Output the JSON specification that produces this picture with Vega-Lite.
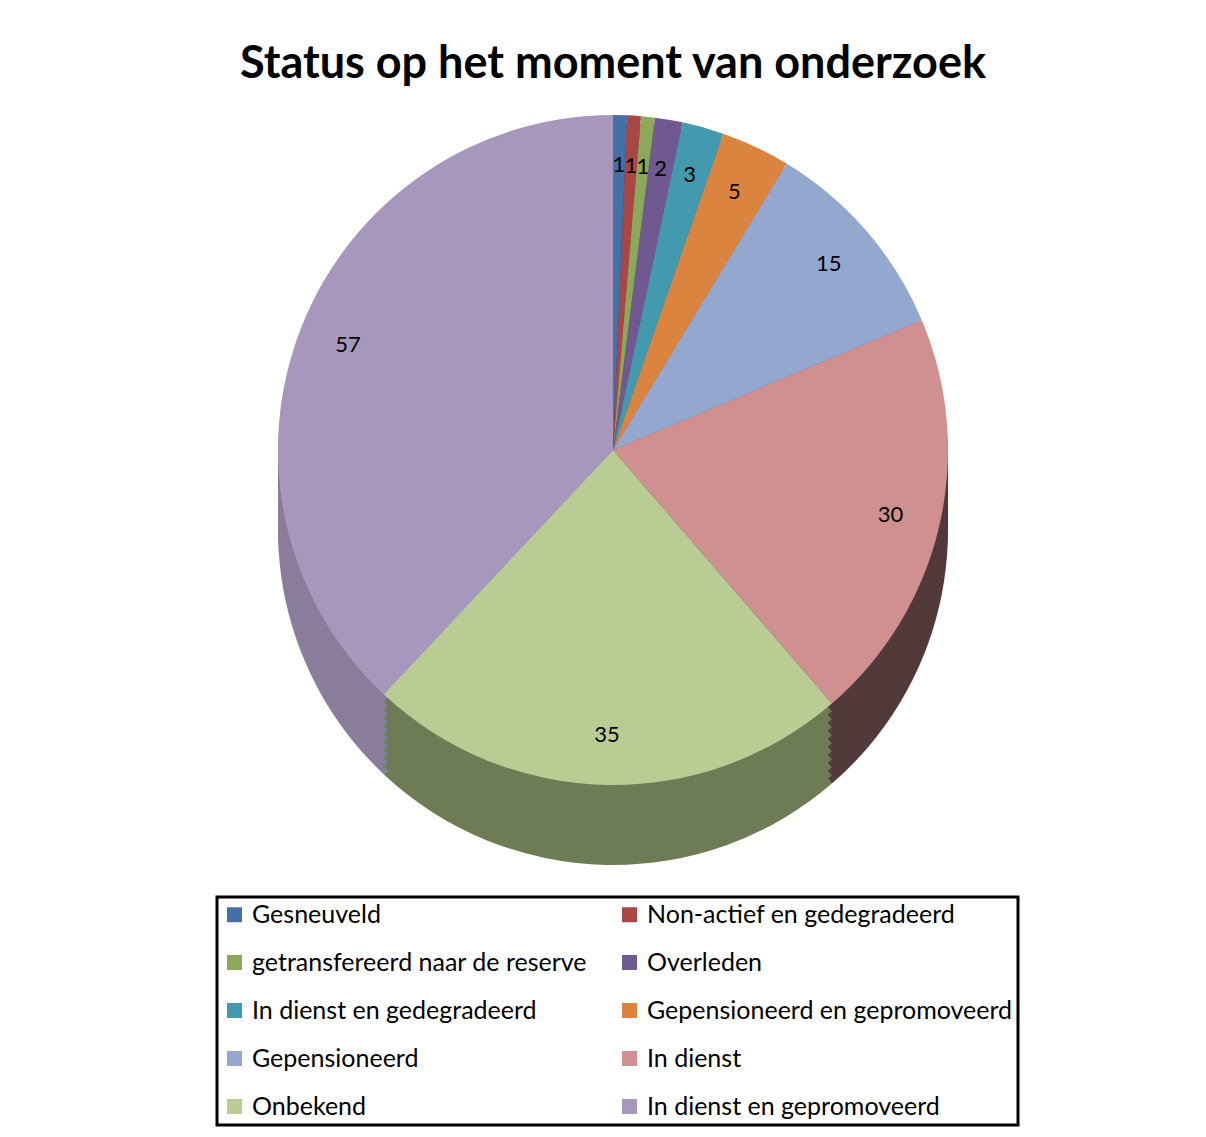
{
  "$schema": "https://vega.github.io/schema/vega-lite/v6.json",
  "autosize": "none",
  "width": 1186,
  "height": 690,
  "padding": {"left": 20, "top": 105, "right": 0, "bottom": 342},
  "background": "white",
  "title": {"text": "Status op het moment van onderzoek", "fontSize": 45, "font": "Lato", "fontWeight": "bold", "color": "#000000", "anchor": "middle", "offset": 18},
  "data": {"values": [
    {"status": "Gesneuveld", "count": 1, "idx": 1},
    {"status": "Non-actief en gedegradeerd", "count": 1, "idx": 2},
    {"status": "getransfereerd naar de reserve", "count": 1, "idx": 3},
    {"status": "Overleden", "count": 2, "idx": 4},
    {"status": "In dienst en gedegradeerd", "count": 3, "idx": 5},
    {"status": "Gepensioneerd en gepromoveerd", "count": 5, "idx": 6},
    {"status": "Gepensioneerd", "count": 15, "idx": 7},
    {"status": "In dienst", "count": 30, "idx": 8},
    {"status": "Onbekend", "count": 35, "idx": 9},
    {"status": "In dienst en gepromoveerd", "count": 57, "idx": 10}
  ]},
  "encoding": {
    "theta": {"field": "count", "type": "quantitative", "stack": true},
    "order": {"field": "idx", "type": "quantitative"}
  },
  "layer": [
    {"mark": {"type": "arc", "radius": 335, "yOffset": 80}, "encoding": {"color": {"field": "status", "type": "nominal", "legend": null, "scale": {"domain": ["Gesneuveld", "Non-actief en gedegradeerd", "getransfereerd naar de reserve", "Overleden", "In dienst en gedegradeerd", "Gepensioneerd en gepromoveerd", "Gepensioneerd", "In dienst", "Onbekend", "In dienst en gepromoveerd"], "range": ["#2c4a70", "#702f2d", "#5d703c", "#4a3a60", "#2c6674", "#91582a", "#627089", "#533a3a", "#6e7c55", "#8a7d9c"]}}}},
    {"mark": {"type": "arc", "radius": 335, "yOffset": 72}, "encoding": {"color": {"field": "status", "type": "nominal", "legend": null, "scale": {"domain": ["Gesneuveld", "Non-actief en gedegradeerd", "getransfereerd naar de reserve", "Overleden", "In dienst en gedegradeerd", "Gepensioneerd en gepromoveerd", "Gepensioneerd", "In dienst", "Onbekend", "In dienst en gepromoveerd"], "range": ["#2c4a70", "#702f2d", "#5d703c", "#4a3a60", "#2c6674", "#91582a", "#627089", "#533a3a", "#6e7c55", "#8a7d9c"]}}}},
    {"mark": {"type": "arc", "radius": 335, "yOffset": 64}, "encoding": {"color": {"field": "status", "type": "nominal", "legend": null, "scale": {"domain": ["Gesneuveld", "Non-actief en gedegradeerd", "getransfereerd naar de reserve", "Overleden", "In dienst en gedegradeerd", "Gepensioneerd en gepromoveerd", "Gepensioneerd", "In dienst", "Onbekend", "In dienst en gepromoveerd"], "range": ["#2c4a70", "#702f2d", "#5d703c", "#4a3a60", "#2c6674", "#91582a", "#627089", "#533a3a", "#6e7c55", "#8a7d9c"]}}}},
    {"mark": {"type": "arc", "radius": 335, "yOffset": 56}, "encoding": {"color": {"field": "status", "type": "nominal", "legend": null, "scale": {"domain": ["Gesneuveld", "Non-actief en gedegradeerd", "getransfereerd naar de reserve", "Overleden", "In dienst en gedegradeerd", "Gepensioneerd en gepromoveerd", "Gepensioneerd", "In dienst", "Onbekend", "In dienst en gepromoveerd"], "range": ["#2c4a70", "#702f2d", "#5d703c", "#4a3a60", "#2c6674", "#91582a", "#627089", "#533a3a", "#6e7c55", "#8a7d9c"]}}}},
    {"mark": {"type": "arc", "radius": 335, "yOffset": 48}, "encoding": {"color": {"field": "status", "type": "nominal", "legend": null, "scale": {"domain": ["Gesneuveld", "Non-actief en gedegradeerd", "getransfereerd naar de reserve", "Overleden", "In dienst en gedegradeerd", "Gepensioneerd en gepromoveerd", "Gepensioneerd", "In dienst", "Onbekend", "In dienst en gepromoveerd"], "range": ["#2c4a70", "#702f2d", "#5d703c", "#4a3a60", "#2c6674", "#91582a", "#627089", "#533a3a", "#6e7c55", "#8a7d9c"]}}}},
    {"mark": {"type": "arc", "radius": 335, "yOffset": 40}, "encoding": {"color": {"field": "status", "type": "nominal", "legend": null, "scale": {"domain": ["Gesneuveld", "Non-actief en gedegradeerd", "getransfereerd naar de reserve", "Overleden", "In dienst en gedegradeerd", "Gepensioneerd en gepromoveerd", "Gepensioneerd", "In dienst", "Onbekend", "In dienst en gepromoveerd"], "range": ["#2c4a70", "#702f2d", "#5d703c", "#4a3a60", "#2c6674", "#91582a", "#627089", "#533a3a", "#6e7c55", "#8a7d9c"]}}}},
    {"mark": {"type": "arc", "radius": 335, "yOffset": 32}, "encoding": {"color": {"field": "status", "type": "nominal", "legend": null, "scale": {"domain": ["Gesneuveld", "Non-actief en gedegradeerd", "getransfereerd naar de reserve", "Overleden", "In dienst en gedegradeerd", "Gepensioneerd en gepromoveerd", "Gepensioneerd", "In dienst", "Onbekend", "In dienst en gepromoveerd"], "range": ["#2c4a70", "#702f2d", "#5d703c", "#4a3a60", "#2c6674", "#91582a", "#627089", "#533a3a", "#6e7c55", "#8a7d9c"]}}}},
    {"mark": {"type": "arc", "radius": 335, "yOffset": 24}, "encoding": {"color": {"field": "status", "type": "nominal", "legend": null, "scale": {"domain": ["Gesneuveld", "Non-actief en gedegradeerd", "getransfereerd naar de reserve", "Overleden", "In dienst en gedegradeerd", "Gepensioneerd en gepromoveerd", "Gepensioneerd", "In dienst", "Onbekend", "In dienst en gepromoveerd"], "range": ["#2c4a70", "#702f2d", "#5d703c", "#4a3a60", "#2c6674", "#91582a", "#627089", "#533a3a", "#6e7c55", "#8a7d9c"]}}}},
    {"mark": {"type": "arc", "radius": 335, "yOffset": 16}, "encoding": {"color": {"field": "status", "type": "nominal", "legend": null, "scale": {"domain": ["Gesneuveld", "Non-actief en gedegradeerd", "getransfereerd naar de reserve", "Overleden", "In dienst en gedegradeerd", "Gepensioneerd en gepromoveerd", "Gepensioneerd", "In dienst", "Onbekend", "In dienst en gepromoveerd"], "range": ["#2c4a70", "#702f2d", "#5d703c", "#4a3a60", "#2c6674", "#91582a", "#627089", "#533a3a", "#6e7c55", "#8a7d9c"]}}}},
    {"mark": {"type": "arc", "radius": 335, "yOffset": 8}, "encoding": {"color": {"field": "status", "type": "nominal", "legend": null, "scale": {"domain": ["Gesneuveld", "Non-actief en gedegradeerd", "getransfereerd naar de reserve", "Overleden", "In dienst en gedegradeerd", "Gepensioneerd en gepromoveerd", "Gepensioneerd", "In dienst", "Onbekend", "In dienst en gepromoveerd"], "range": ["#2c4a70", "#702f2d", "#5d703c", "#4a3a60", "#2c6674", "#91582a", "#627089", "#533a3a", "#6e7c55", "#8a7d9c"]}}}},
    {"mark": {"type": "arc", "radius": 335}, "encoding": {"color": {"field": "status", "type": "nominal", "scale": {"domain": ["Gesneuveld", "Non-actief en gedegradeerd", "getransfereerd naar de reserve", "Overleden", "In dienst en gedegradeerd", "Gepensioneerd en gepromoveerd", "Gepensioneerd", "In dienst", "Onbekend", "In dienst en gepromoveerd"], "range": ["#4470a8", "#a94744", "#8ca85a", "#705890", "#4399ae", "#da843f", "#94a8cf", "#d09090", "#b8cc94", "#a797bc"]},
      "legend": {"orient": "none", "legendX": 197, "legendY": 792, "columns": 2, "direction": "horizontal", "title": null, "symbolType": "square", "symbolSize": 225, "symbolStrokeWidth": 0, "labelFontSize": 25, "labelFont": "Lato", "labelColor": "#000000", "labelOffset": 5, "labelLimit": 0, "strokeColor": "#000000", "padding": 5, "rowPadding": 22, "columnPadding": 29}}}},
    {"mark": {"type": "text", "radius": 285, "font": "Lato", "fontSize": 22, "color": "#000000"}, "encoding": {"text": {"field": "count", "type": "quantitative"}}}
  ],
  "resolve": {"scale": {"color": "independent"}},
  "config": {"view": {"stroke": null}, "legend": {"strokeWidth": 3}}
}
